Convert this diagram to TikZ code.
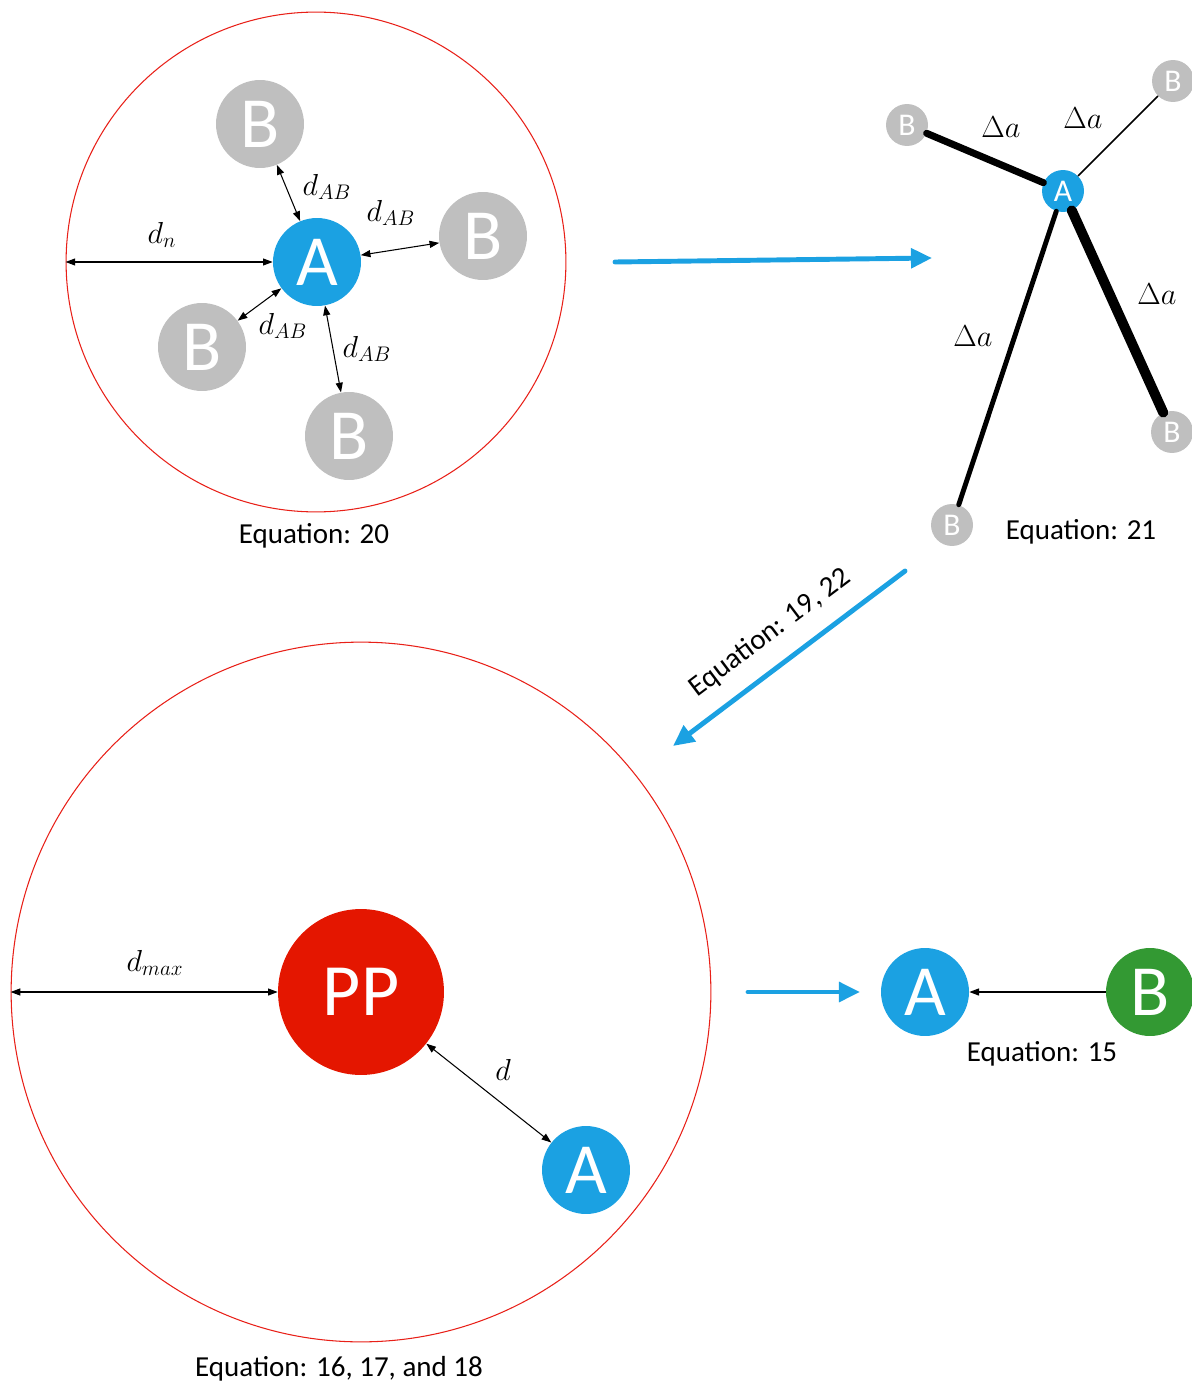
\documentclass[tikz,border=0pt]{standalone}
\usepackage{fontspec}
\setmainfont{Carlito}
\usetikzlibrary{arrows.meta}
\definecolor{ablue}{RGB}{27,161,226}
\definecolor{bgray}{RGB}{191,191,191}
\definecolor{bgreen}{RGB}{51,153,51}
\definecolor{ppred}{RGB}{228,22,0}
\definecolor{ringred}{RGB}{232,32,24}
\begin{document}
\begin{tikzpicture}[x=0.02cm,y=-0.02cm,
  ball/.style={circle, inner sep=0pt, minimum size=#1*0.04cm, text=white},
  bigball/.style={ball=44, font=\fontsize{41}{41}\selectfont},
  smallball/.style={ball=21, font=\fontsize{18}{18}\selectfont},
  ring/.style={circle, draw=ringred, line width=0.6pt, inner sep=0pt, minimum size=#1*0.04cm},
  caption/.style={font=\fontsize{16.5}{20}\selectfont},
  mlabel/.style={font=\fontsize{16.5}{20}\selectfont, inner sep=0pt},
  dim/.style={line width=0.6pt, {Triangle[length=5.5pt,width=4pt]}-{Triangle[length=5.5pt,width=4pt]}},
  flow/.style={ablue, line width=2.8pt, line cap=round, -{Triangle[length=12pt,width=11pt]}},
  bond/.style={line cap=round, line width=#1}
]
\useasboundingbox (0,0) rectangle (1192,1385);

% ---- neighbourhood of A ----
\node[ring=250] (ring1) at (316,262) {};
\node[bigball, fill=ablue] (A1) at (317,262) {A};
\node[bigball, fill=bgray] (B1) at (260,124) {B};
\node[bigball, fill=bgray] (B2) at (483,236) {B};
\node[bigball, fill=bgray] (B3) at (202,347) {B};
\node[bigball, fill=bgray] (B4) at (349,436) {B};
\draw[dim] (A1) -- (B1);
\draw[dim] (A1) -- (B2);
\draw[dim] (A1) -- (B3);
\draw[dim] (A1) -- (B4);
\draw[dim] (ring1.west) -- (A1.west);
\node[mlabel] (ldn) at (162,235) {$d_n$};
\node[mlabel] (lab1) at (327,187) {$d_{AB}$};
\node[mlabel] (lab2) at (391,213) {$d_{AB}$};
\node[mlabel] (lab3) at (283,326) {$d_{AB}$};
\node[mlabel] (lab4) at (367,349) {$d_{AB}$};
\node[caption] (cap20) at (314,536) {Equation: 20};

% ---- weighted bonds ----
\node[smallball, fill=ablue] (A2) at (1063,191) {A};
\node[smallball, fill=bgray] (C1) at (907,125) {B};
\node[smallball, fill=bgray] (C2) at (1173,81) {B};
\node[smallball, fill=bgray] (C3) at (1172,432) {B};
\node[smallball, fill=bgray] (C4) at (952,525) {B};
\draw[bond=4pt] (A2) -- (C1);
\draw[bond=0.9pt] (A2) -- (C2);
\draw[bond=5.7pt] (A2) -- (C3);
\draw[bond=2.8pt] (A2) -- (C4);
\node[mlabel] (da1) at (1001,127) {$\Delta a$};
\node[mlabel] (da2) at (1083,118) {$\Delta a$};
\node[mlabel] (da3) at (1157,294) {$\Delta a$};
\node[mlabel] (da4) at (973,336) {$\Delta a$};
\node[caption] (cap21) at (1081,532) {Equation: 21};

% ---- process arrows ----
\coordinate (f1s) at (615,262);
\coordinate (f1e) at (932,258);
\draw[flow] (f1s) -- (f1e);
\coordinate (f2s) at (905,571);
\coordinate (f2e) at (673,746);
\draw[flow] (f2s) -- (f2e);
\node[caption, rotate=37] (cap1922) at (770,633) {Equation: 19, 22};
\coordinate (f3s) at (748,992);
\coordinate (f3e) at (860,992);
\draw[flow] (f3s) -- (f3e);

% ---- pheromone point ----
\node[ring=350] (ring2) at (361,992) {};
\node[ball=83, fill=ppred, font=\fontsize{42}{42}\selectfont] (PP) at (361,992) {PP};
\node[bigball, fill=ablue] (A3) at (586,1170) {A};
\draw[dim] (ring2.west) -- (PP.west);
\draw[dim] (PP) -- (A3);
\node[mlabel] (ldmax) at (155,963) {$d_{max}$};
\node[mlabel] (ld) at (503,1070) {$d$};
\node[caption] (cap16) at (339,1369) {Equation: 16, 17, and 18};

% ---- attraction ----
\node[bigball, fill=ablue] (A4) at (925,992) {A};
\node[bigball, fill=bgreen] (B5) at (1150,992) {B};
\draw[line width=0.6pt, -{Triangle[length=5.5pt,width=4pt]}] (B5) -- (A4);
\node[caption] (cap15) at (1042,1054) {Equation: 15};
\end{tikzpicture}
\end{document}
